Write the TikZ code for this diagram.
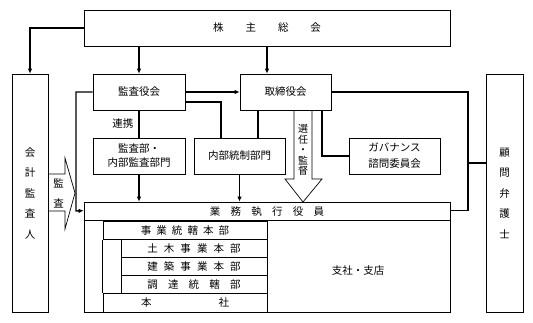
\documentclass[tikz,border=0pt]{standalone}
\usepackage{fontspec}
\setmainfont{Noto Sans CJK JP}
\usetikzlibrary{arrows.meta}

\ExplSyntaxOn
\NewDocumentCommand{\spaced}{mm}{
  \seq_clear:N \l_tmpa_seq
  \tl_map_inline:nn {#2} {\seq_put_right:Nn \l_tmpa_seq {##1}}
  \seq_use:Nn \l_tmpa_seq {\hspace{#1}}
}
\ExplSyntaxOff

\begin{document}
\begin{tikzpicture}[
  x=1bp, y=-1bp,
  box/.style={draw, line width=0.7bp, inner sep=0pt, align=center,
    font=\fontsize{10.5bp}{14bp}\selectfont},
  tall/.style={box, minimum width=36bp, minimum height=238bp,
    font=\fontsize{10.5bp}{20.5bp}\selectfont},
  row/.style={draw, line width=0.7bp, inner sep=0pt, minimum height=18.2bp,
    font=\fontsize{10.5bp}{13bp}\selectfont},
  txt/.style={inner sep=0pt, align=center, font=\fontsize{10.5bp}{13bp}\selectfont},
  link/.style={line width=1.4bp},
  arr/.style={link, -{Latex[length=5bp,width=4.5bp]}},
  blockarrow/.style={line width=0.7bp, line join=miter}
]
\useasboundingbox (0,0) rectangle (533,322);

% top row
\node[box, minimum width=366bp, minimum height=36bp] (soukai) at (267,28) {\spaced{22bp}{株主総会}};
\node[tall] (kaikei) at (30,193) {会\\計\\監\\査\\人};
\node[tall, minimum width=37bp] (komon) at (504.5,193) {顧\\問\\弁\\護\\士};

\node[box, minimum width=92bp, minimum height=36bp] (kansayaku) at (139,92) {監査役会};
\node[box, minimum width=91bp, minimum height=36bp] (torishimari) at (285.5,92) {取締役会};

% middle row
\node[box, minimum width=92bp, minimum height=36bp] (kansabu) at (139,156) {監査部・\\内部監査部門};
\node[box, minimum width=91bp, minimum height=36bp] (naibu) at (239.5,156) {内部統制部門};
\node[box, minimum width=91bp, minimum height=36bp,
  font=\fontsize{10.5bp}{16bp}\selectfont] (governance) at (394.5,156) {ガバナンス\\諮問委員会};

% executive officers
\node[box, minimum width=366bp, minimum height=110bp] (gyomu) at (267,257) {};
\node[txt] (gyomutitle) at (267,211.5) {\spaced{10.3bp}{業務執行役員}};

\node[row, minimum width=164bp] (jigyo)    at (185,230.1) {\spaced{5.1bp}{事業統轄本部}};
\node[row, minimum width=146bp] (doboku)   at (194,248.3) {\spaced{6.1bp}{土木事業本部}};
\node[row, minimum width=146bp] (kenchiku) at (194,266.5) {\spaced{6.1bp}{建築事業本部}};
\node[row, minimum width=146bp] (chotatsu) at (194,284.7) {\spaced{10.2bp}{調達統轄部}};
\node[row, minimum width=164bp] (honsha)   at (185,302.9) {\spaced{67bp}{本社}};
\node[txt] (shisha) at (358,271) {支社・支店};

\draw[line width=0.7bp] (gyomu.west |- jigyo.north) -- (gyomu.east |- jigyo.north);
\draw[line width=0.7bp] (jigyo.south west) -- (honsha.north west);

% connectors
\draw[arr] (soukai.west) -| (kaikei.north);
\draw[arr] (kansayaku.north |- soukai.south) -- (kansayaku.north);
\draw[arr] (soukai.south) -- (soukai.south |- torishimari.north);
\draw[arr] (kansayaku) -- (torishimari);

\draw[link] (kansayaku) -- (kansabu) node[midway, txt, left=5bp] (renkei) {連携};
\draw[link] ([yshift=-10bp]kansayaku.east) -| ([xshift=-18.5bp]naibu.north);
\draw[link] ([xshift=-27.5bp]torishimari.south) -- ([xshift=-27.5bp]torishimari.south |- naibu.north);
\draw[link] ([xshift=36.5bp]torishimari.south) |- (governance.west);

\draw[arr] (kansabu) -- (kansabu.south |- gyomu.north);
\draw[arr] (naibu) -- (naibu.south |- gyomu.north);

\coordinate (lawyer) at (468,163);
\draw[link] (torishimari.east) -| (lawyer) |- ([yshift=-9bp]gyomu.north east);
\draw[link] (lawyer) -- (lawyer -| komon.west);

\coordinate (auditline) at (76,211);
\draw[arr] (kansayaku.west) -| (auditline) -- ([yshift=-9bp]gyomu.north west);

% block arrows
\draw[blockarrow] (294,110) -- (294,179) -- (285,179) -- (303,202) -- (322,179) -- (312,179) -- (312,110);
\node[txt, font=\fontsize{10bp}{10.5bp}\selectfont] (senin) at (303,150) {選\\任\\・\\監\\督};

\draw[blockarrow] (48,174) -- (65,174) -- (65,158) -- (75,193) -- (65,229) -- (65,211) -- (48,211);
\node[txt, font=\fontsize{10.5bp}{20bp}\selectfont] (kansa) at (58.5,193) {監\\査};

\end{tikzpicture}
\end{document}
